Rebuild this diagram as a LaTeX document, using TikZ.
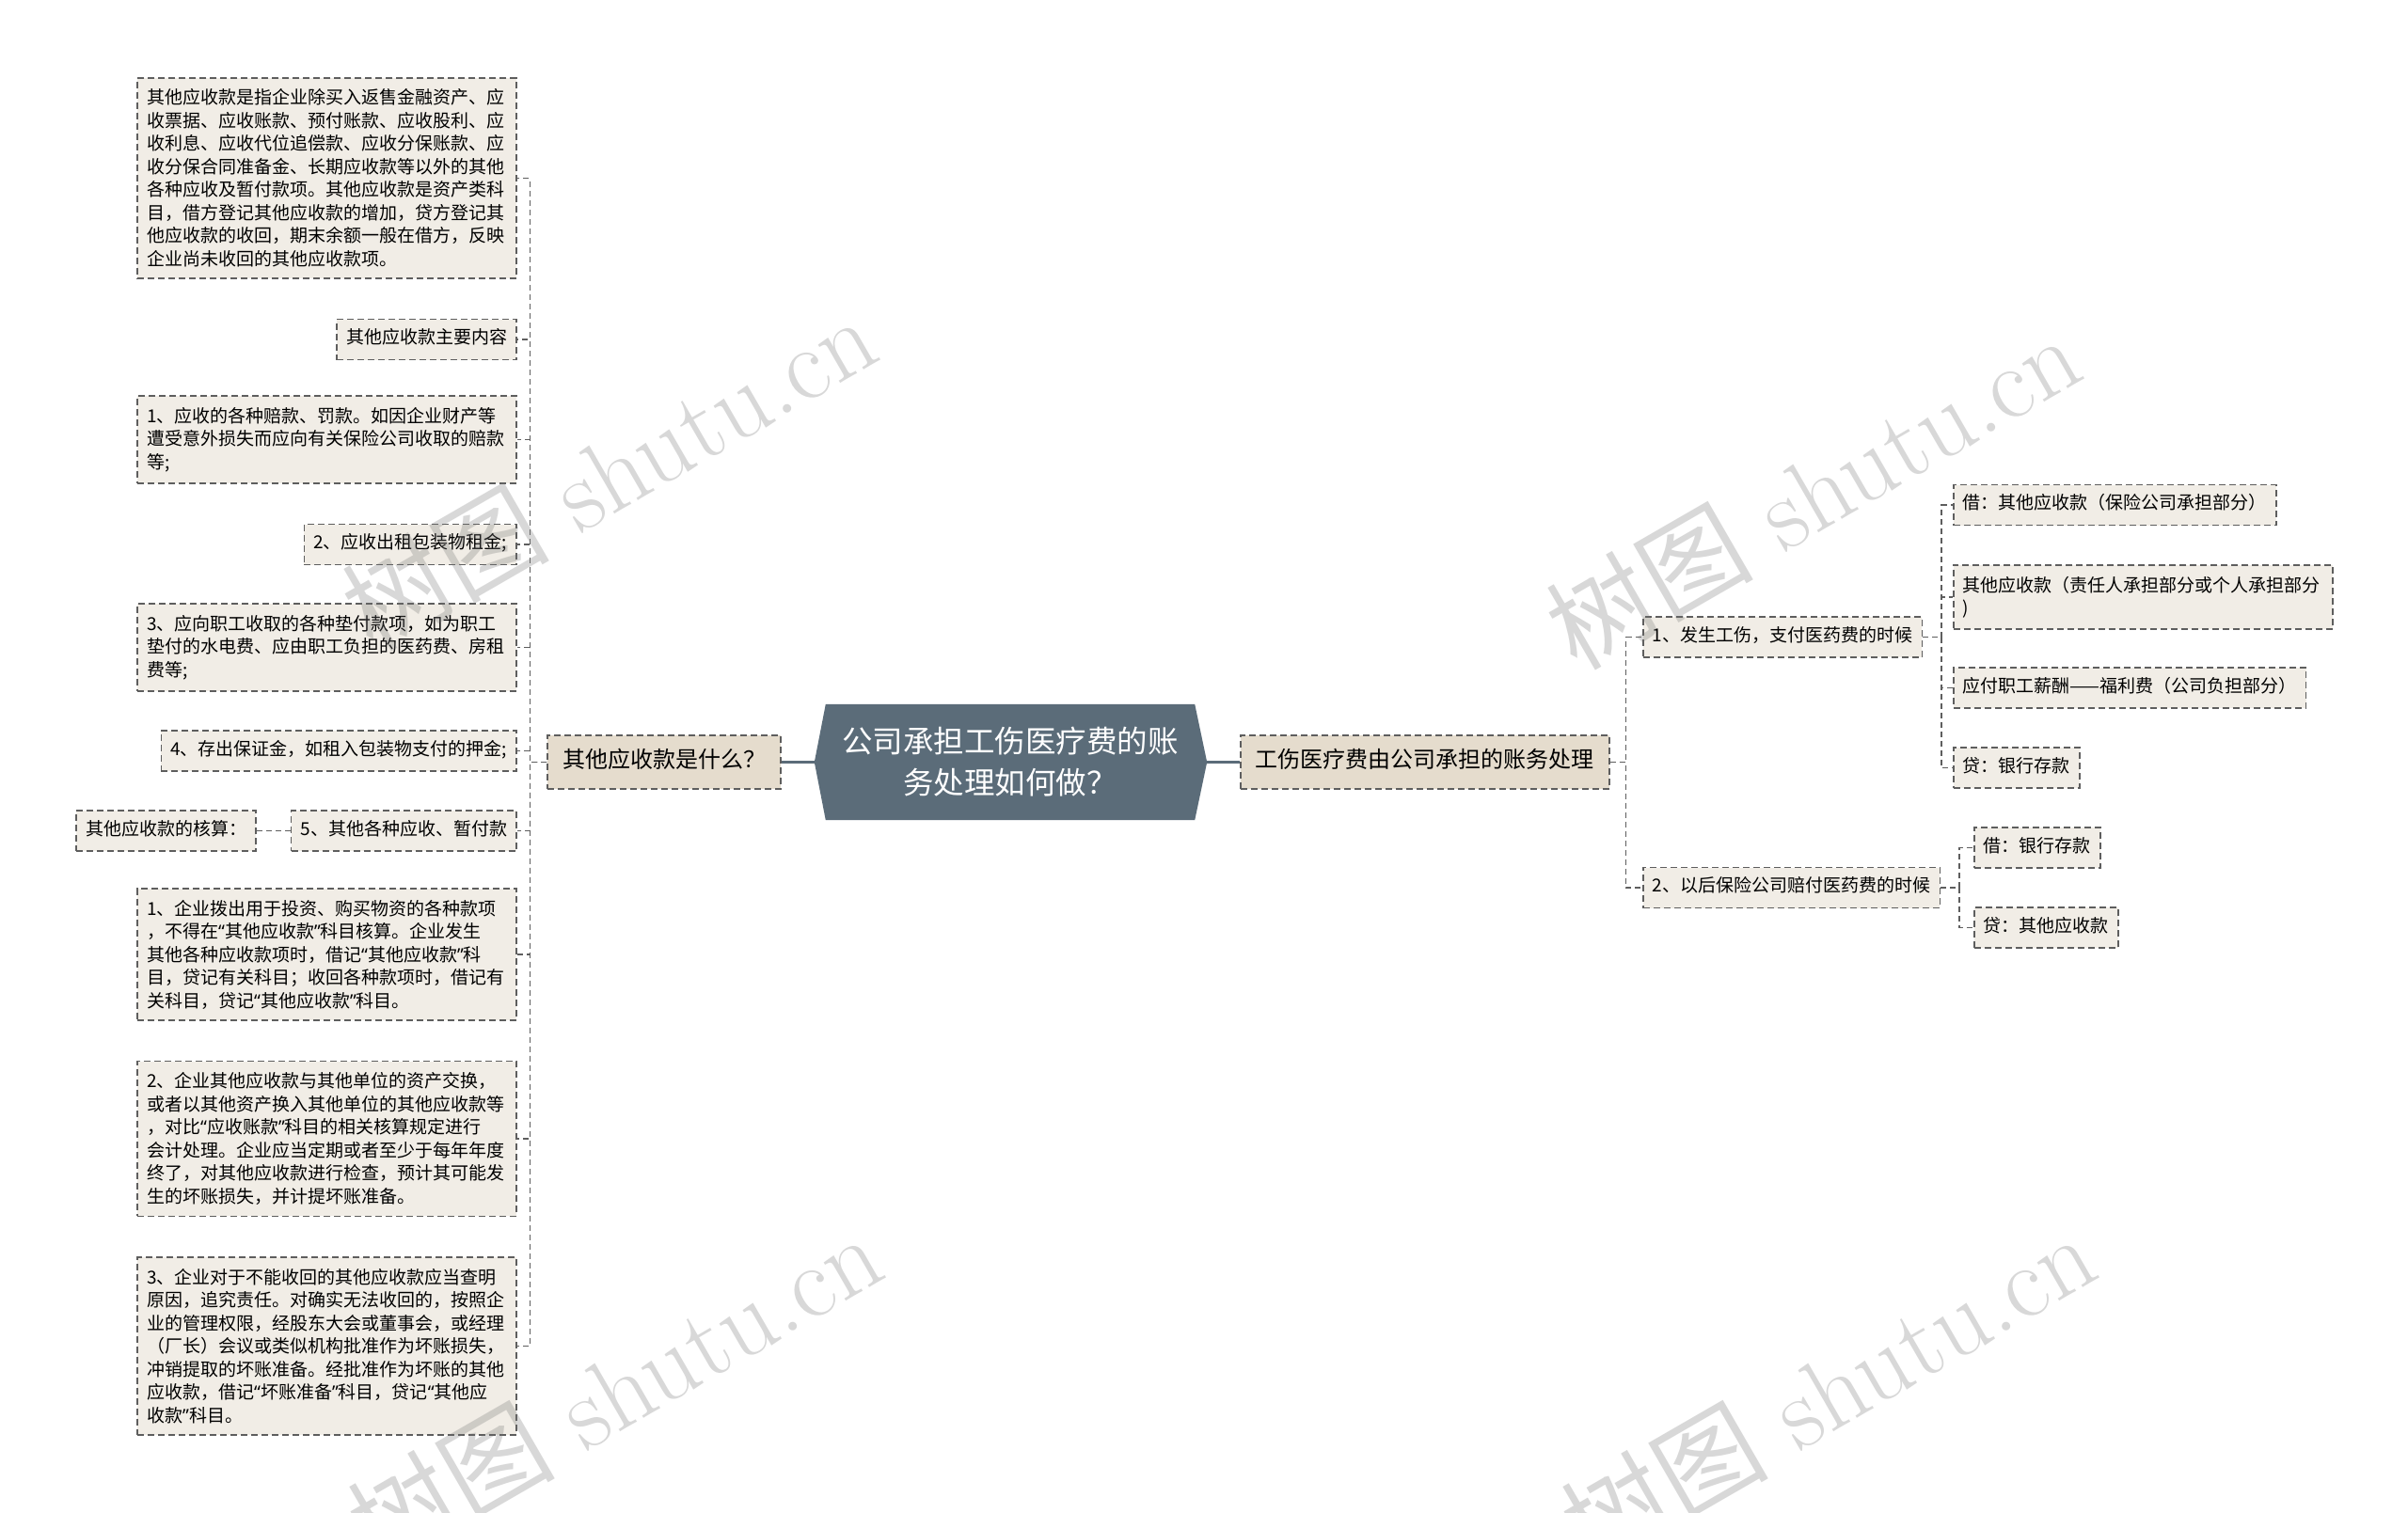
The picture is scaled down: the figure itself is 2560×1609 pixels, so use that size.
\documentclass[tikz,border=0pt]{standalone}
\usepackage{fontspec}
\newfontfamily\cjk{Noto Sans CJK SC}
\newfontfamily\latinq{Noto Sans}
\newcommand\oq{{\latinq “}}
\newcommand\cq{{\latinq ”}}
\usetikzlibrary{calc,backgrounds}
\definecolor{leaffill}{HTML}{F1EDE6}
\definecolor{branchfill}{HTML}{E5DCCD}
\definecolor{rootfill}{HTML}{5B6C79}
\definecolor{linegray}{HTML}{5E5E5E}
\tikzset{
  box/.style={draw=linegray, line width=1.6pt, dash pattern=on 7pt off 4pt,
    fill=leaffill, font=\cjk\fontsize{19}{24.5}\selectfont,
    inner xsep=10pt, inner ysep=12pt},
  leaf/.style={box, text height=14pt, text depth=5pt},
  leafbox/.style={box, text width=383pt, align=left},
  branch/.style={box, fill=branchfill, font=\cjk\fontsize{24}{30}\selectfont,
    inner xsep=16pt, inner ysep=16.5pt, text height=18pt, text depth=6pt},
  root/.style={font=\cjk\fontsize{32.5}{44}\selectfont, text=white, align=center,
    minimum width=392pt, minimum height=123pt, inner sep=0pt},
  conn/.style={draw=linegray, line width=1.5pt, dash pattern=on 6pt off 4pt},
  trunk/.style={draw=rootfill, line width=3pt},
  wmark/.style={rotate=30, font=\fontsize{110}{110}\selectfont, text=black!55, opacity=0.28}
}
\begin{document}
\begin{tikzpicture}[x=1pt,y=-1pt]
\useasboundingbox (0,0) rectangle (2560,1609);
\clip (0,0) rectangle (2560,1609);

% root and main branches
\node[root] (root) at (1074,810.5) {公司承担工伤医疗费的账\\务处理如何做？};
\begin{scope}[on background layer]
\fill[white] (0,0) rectangle (2560,1609);
\fill[rootfill] (root.north west) -- (root.north east) -- ($(root.east)+(13,0)$)
  -- (root.south east) -- (root.south west) -- ($(root.west)+(-12,0)$) -- cycle;
\end{scope}
\coordinate (rootL) at ($(root.west)+(-12,0)$);
\coordinate (rootR) at ($(root.east)+(13,0)$);
\node[branch, anchor=east] (whatQ) at (831,810.5) {其他应收款是什么？};
\node[branch, anchor=west] (deal) at (1318,810.5) {工伤医疗费由公司承担的账务处理};
\draw[trunk] (rootL) -- (whatQ.east);
\draw[trunk] (rootR) -- (deal.west);

% left side
\node[leafbox, anchor=east] (whatA) at (550,189.5) {其他应收款是指企业除买入返售金融资产、应\\收票据、应收账款、预付账款、应收股利、应\\收利息、应收代位追偿款、应收分保账款、应\\收分保合同准备金、长期应收款等以外的其他\\各种应收及暂付款项。其他应收款是资产类科\\目，借方登记其他应收款的增加，贷方登记其\\他应收款的收回，期末余额一般在借方，反映\\企业尚未收回的其他应收款项。};
\node[leaf, anchor=east] (mainC) at (550,361) {其他应收款主要内容};
\node[leafbox, anchor=east] (item1) at (550,467.5) {1、应收的各种赔款、罚款。如因企业财产等\\遭受意外损失而应向有关保险公司收取的赔款\\等;};
\node[leaf, anchor=east] (item2) at (550,579) {2、应收出租包装物租金;};
\node[leafbox, anchor=east] (item3) at (550,688.5) {3、应向职工收取的各种垫付款项，如为职工\\垫付的水电费、应由职工负担的医药费、房租\\费等;};
\node[leaf, anchor=east] (item4) at (550,798.5) {4、存出保证金，如租入包装物支付的押金;};
\node[leaf, anchor=east] (item5) at (550,883.5) {5、其他各种应收、暂付款};
\node[leaf, anchor=east] (calc) at (273,883.5) {其他应收款的核算：};
\node[leafbox, anchor=east] (acct1) at (550,1015) {1、企业拨出用于投资、购买物资的各种款项\\，不得在\oq 其他应收款\cq 科目核算。企业发生\\其他各种应收款项时，借记\oq 其他应收款\cq 科\\目，贷记有关科目；收回各种款项时，借记有\\关科目，贷记\oq 其他应收款\cq 科目。};
\node[leafbox, anchor=east] (acct2) at (550,1211) {2、企业其他应收款与其他单位的资产交换，\\或者以其他资产换入其他单位的其他应收款等\\，对比\oq 应收账款\cq 科目的相关核算规定进行\\会计处理。企业应当定期或者至少于每年年度\\终了，对其他应收款进行检查，预计其可能发\\生的坏账损失，并计提坏账准备。};
\node[leafbox, anchor=east] (acct3) at (550,1431.5) {3、企业对于不能收回的其他应收款应当查明\\原因，追究责任。对确实无法收回的，按照企\\业的管理权限，经股东大会或董事会，或经理\\（厂长）会议或类似机构批准作为坏账损失，\\冲销提取的坏账准备。经批准作为坏账的其他\\应收款，借记\oq 坏账准备\cq 科目，贷记\oq 其他应\\收款\cq 科目。};

\foreach \n in {whatA,mainC,item1,item2,item3,item4,item5,acct1,acct2,acct3}
  \draw[conn] (whatQ.west) -- ++(-18,0) |- (\n.east);
\draw[conn] (item5.west) -- (calc.east);

% right side
\node[leaf, anchor=west] (inj1) at (1746,677.5) {1、发生工伤，支付医药费的时候};
\node[leaf, anchor=west] (ins2) at (1746,944) {2、以后保险公司赔付医药费的时候};
\node[leaf, anchor=west] (d1) at (2076,537) {借：其他应收款（保险公司承担部分）};
\node[leafbox, anchor=west] (d2) at (2076,635) {其他应收款（责任人承担部分或个人承担部分\\)};
\node[leaf, anchor=west] (d3) at (2076,731.5) {应付职工薪酬——福利费（公司负担部分）};
\node[leaf, anchor=west] (d4) at (2076,816.5) {贷：银行存款};
\node[leaf, anchor=west] (e1) at (2098,901.5) {借：银行存款};
\node[leaf, anchor=west] (e2) at (2098,986.5) {贷：其他应收款};

\foreach \n in {inj1,ins2}
  \draw[conn] (deal.east) -- ++(17,0) |- (\n.west);
\foreach \n in {d1,d2,d3,d4}
  \draw[conn] (inj1.east) -- ++(20,0) |- (\n.west);
\foreach \n in {e1,e2}
  \draw[conn] (ins2.east) -- ++(20,0) |- (\n.west);

% watermarks
\node[wmark] (wm1) at (647,502) {{\cjk 树图} shutu.cn};
\node[wmark] (wm2) at (1927,522) {{\cjk 树图} shutu.cn};
\node[wmark] (wm3) at (653,1478) {{\cjk 树图} shutu.cn};
\node[wmark] (wm4) at (1943,1478) {{\cjk 树图} shutu.cn};
\end{tikzpicture}
\end{document}
